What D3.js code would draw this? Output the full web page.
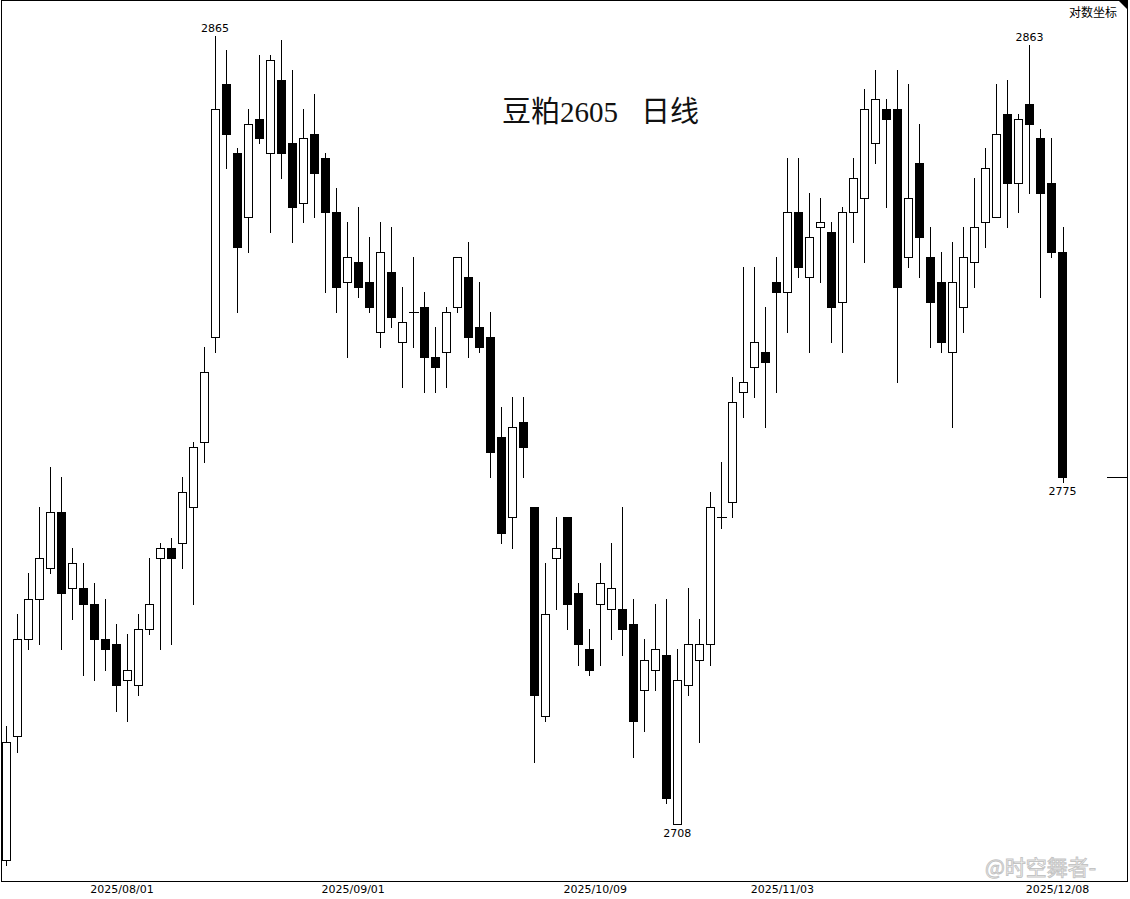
<!DOCTYPE html>
<html>
<head>
<meta charset="utf-8">
<script src="https://cdn.jsdelivr.net/npm/d3@7/dist/d3.min.js"></script>
<style>
  html, body { margin: 0; padding: 0; background: #fff; }
  svg { display: block; }
</style>
</head>
<body>
<svg id="chart" width="1130" height="899"></svg>
<script>
// ---------- data ----------
const dates = [
  "07/17","07/18","07/21","07/22","07/23","07/24","07/25","07/28","07/29","07/30","07/31",
  "08/01","08/04","08/05","08/06","08/07","08/08","08/11","08/12","08/13","08/14","08/15",
  "08/18","08/19","08/20","08/21","08/22","08/25","08/26","08/27","08/28","08/29",
  "09/01","09/02","09/03","09/04","09/05","09/08","09/09","09/10","09/11","09/12",
  "09/15","09/16","09/17","09/18","09/19","09/22","09/23","09/24","09/25","09/26","09/29","09/30",
  "10/09","10/10","10/13","10/14","10/15","10/16","10/17","10/20","10/21","10/22","10/23","10/24",
  "10/27","10/28","10/29","10/30","10/31",
  "11/03","11/04","11/05","11/06","11/07","11/10","11/11","11/12","11/13","11/14",
  "11/17","11/18","11/19","11/20","11/21","11/24","11/25","11/26","11/27","11/28",
  "12/01","12/02","12/03","12/04","12/05","12/08"
];
const openV = [
  2701,2725,2744,2752,2758,2769,2754,2754,2751,2744,2743,2736,2735,2746,2760,2762,2763,2770,2783,2804,
  2855,2841,2828,2848,2841,2856,2843,2831,2845,2840,2829,2815,2819,2815,2805,2817,2803,2809,2810,2800,
  2801,2810,2816,2806,2804,2784,2768,2787,2770,2729,2760,2768,2753,2742,2751,2750,2750,2747,2734,2738,
  2741,2708,2735,2740,2743,2768,2771,2793,2798,2801,2815,2813,2829,2816,2826,2825,2811,2829,2832,2843,
  2850,2850,2820,2839,2820,2815,2801,2810,2819,2827,2828,2849,2835,2851,2844,2835,2821
];
const highV = [
  2727,2749,2757,2770,2778,2776,2762,2759,2755,2752,2747,2745,2749,2760,2763,2764,2776,2783,2802,2865,
  2862,2842,2850,2861,2861,2864,2858,2850,2853,2841,2834,2827,2830,2824,2827,2826,2814,2820,2813,2806,
  2810,2820,2823,2815,2809,2790,2792,2792,2770,2759,2768,2768,2755,2746,2759,2763,2770,2752,2744,2751,
  2752,2742,2754,2748,2773,2779,2796,2818,2818,2810,2820,2840,2840,2833,2832,2827,2830,2840,2854,2858,
  2852,2858,2855,2847,2826,2821,2823,2826,2836,2842,2855,2856,2849,2863,2846,2844,2826
];
const lowV = [
  2700,2722,2742,2743,2757,2742,2748,2737,2736,2738,2730,2728,2733,2745,2742,2743,2758,2751,2779,2801,
  2838,2809,2821,2843,2825,2836,2823,2827,2828,2813,2809,2800,2812,2809,2802,2806,2794,2802,2793,2793,
  2794,2809,2800,2801,2776,2763,2762,2776,2720,2728,2750,2746,2739,2737,2739,2744,2741,2721,2726,2734,
  2712,2708,2733,2724,2739,2766,2768,2788,2792,2786,2793,2805,2816,2801,2815,2803,2801,2823,2819,2839,
  2830,2795,2818,2816,2802,2801,2786,2805,2814,2822,2828,2826,2829,2833,2812,2820,2775
];
const closeV = [
  2724,2744,2752,2760,2769,2753,2759,2751,2744,2742,2735,2738,2746,2751,2762,2760,2773,2782,2797,2850,
  2845,2822,2847,2844,2860,2841,2830,2844,2837,2829,2814,2820,2814,2810,2821,2808,2807,2809,2800,2798,
  2809,2820,2804,2802,2781,2765,2786,2782,2733,2749,2762,2751,2743,2738,2755,2754,2746,2728,2740,2742,
  2713,2736,2743,2743,2770,2768,2791,2795,2803,2799,2813,2829,2818,2824,2827,2810,2829,2836,2850,2852,
  2848,2814,2832,2824,2811,2803,2815,2820,2826,2838,2845,2835,2848,2847,2833,2821,2776
];
const tickDates = ["08/01","09/01","10/09","11/03","12/08"];
const yearPrefix = "2025/";
const markHigh = [{i: 19, text: "2865"}, {i: 93, text: "2863"}];
const markLow  = [{i: 61, text: "2708"}, {i: 96, text: "2775"}];
const titleMain = "豆粕2605";
const titleTail = "日线";
const scaleTag = "对数坐标";
const watermark = "@时空舞者-";

// ---------- layout ----------
const axisY = 881.5, frameL = 1.5, frameR = 1127.5, frameT = 0.5;
const svg = d3.select("#chart");

const x = d3.scalePoint().domain(dates).range([6, 1062.5]);
const step = x.step();
const y = d3.scaleLog().domain([2708, 2865]).range([824, 35.5]);

const candles = dates.map((d, i) => ({d, i, o: openV[i], h: highV[i], l: lowV[i], c: closeV[i]}));

// frame
svg.append("rect").attr("x", frameL).attr("y", frameT)
  .attr("width", frameR - frameL).attr("height", axisY - frameT)
  .attr("fill", "none").attr("stroke", "#000").attr("stroke-width", 1)
  .attr("shape-rendering", "crispEdges");

// top-right corner triangle
svg.append("path").attr("d", `M1118,0 L1128,0 L1128,10 Z`).attr("fill", "#000");

const gC = svg.append("g").attr("shape-rendering", "crispEdges");
const px = v => Math.round(v) + 0.5;

// wicks
gC.selectAll("line.wick").data(candles).join("line")
  .attr("class", "wick")
  .attr("x1", d => px(x(d.d))).attr("x2", d => px(x(d.d)))
  .attr("y1", d => Math.round(y(d.h))).attr("y2", d => Math.round(y(d.l)) + 1)
  .attr("stroke", "#000").attr("stroke-width", 1);

// bodies
const bodies = candles.filter(d => d.o !== d.c);
gC.selectAll("rect.body").data(bodies).join("rect")
  .attr("class", "body")
  .attr("x", d => px(x(d.d) - 4.5))
  .attr("y", d => px(y(Math.max(d.o, d.c))))
  .attr("width", 8)
  .attr("height", d => Math.max(1, px(y(Math.min(d.o, d.c))) - px(y(Math.max(d.o, d.c)))))
  .attr("fill", d => d.c > d.o ? "#fff" : "#000")
  .attr("stroke", "#000").attr("stroke-width", 1);

// doji
const dojis = candles.filter(d => d.o === d.c);
gC.selectAll("line.doji").data(dojis).join("line")
  .attr("class", "doji")
  .attr("x1", d => Math.round(x(d.d) - 4.5)).attr("x2", d => Math.round(x(d.d) + 5.5))
  .attr("y1", d => px(y(d.o))).attr("y2", d => px(y(d.o)))
  .attr("stroke", "#000").attr("stroke-width", 1);

// last price marker on the right edge
const last = candles[candles.length - 1];
svg.append("line")
  .attr("x1", 1107).attr("x2", frameR)
  .attr("y1", px(y(last.c))).attr("y2", px(y(last.c)))
  .attr("stroke", "#000").attr("stroke-width", 1).attr("shape-rendering", "crispEdges");

// extreme labels
const lblFont = "'DejaVu Sans', Verdana, sans-serif";
svg.selectAll("text.hi").data(markHigh).join("text")
  .attr("class", "hi")
  .attr("x", d => x(dates[d.i])).attr("y", d => y(highV[d.i]) - 4)
  .attr("text-anchor", "middle").attr("font-family", lblFont).attr("font-size", 11)
  .attr("fill", "#000").text(d => d.text);
svg.selectAll("text.lo").data(markLow).join("text")
  .attr("class", "lo")
  .attr("x", d => x(dates[d.i])).attr("y", d => y(lowV[d.i]) + 13)
  .attr("text-anchor", "middle").attr("font-family", lblFont).attr("font-size", 11)
  .attr("fill", "#000").text(d => d.text);

// watermark (drawn under the axis labels)
svg.append("text").attr("x", 985).attr("y", 875)
  .attr("font-family", "'Noto Sans CJK SC', sans-serif").attr("font-size", 21)
  .attr("fill", "#fff").attr("fill-opacity", 0.85)
  .attr("stroke", "#aaa").attr("stroke-width", 1).attr("stroke-opacity", 0.7)
  .text(watermark);

// bottom axis
const xLab = d3.scalePoint().domain(dates).range([6 - step / 2, 1062.5 - step / 2]);
const axis = d3.axisBottom(xLab).tickValues(tickDates).tickSize(0).tickPadding(4)
  .tickFormat(d => yearPrefix + d);
const gA = svg.append("g").attr("transform", `translate(0,${axisY})`).call(axis);
gA.select(".domain").remove();
gA.selectAll("text").attr("font-family", lblFont).attr("font-size", 11).attr("fill", "#000");
svg.append("line").attr("x1", frameL).attr("x2", frameR).attr("y1", axisY).attr("y2", axisY)
  .attr("stroke", "#000").attr("stroke-width", 1.2);

// title
const serif = "'Liberation Serif', 'DejaVu Serif', 'Noto Sans CJK SC', serif";
svg.append("text").attr("x", 502).attr("y", 122)
  .attr("font-family", serif).attr("font-size", 29).attr("fill", "#111")
  .text(titleMain);
svg.append("text").attr("x", 641).attr("y", 122)
  .attr("font-family", serif).attr("font-size", 29).attr("fill", "#111")
  .text(titleTail);

// scale tag
svg.append("text").attr("x", 1117).attr("y", 17).attr("text-anchor", "end")
  .attr("font-family", "'Noto Sans CJK SC', sans-serif").attr("font-size", 12).attr("fill", "#000")
  .text(scaleTag);
</script>
</body>
</html>
